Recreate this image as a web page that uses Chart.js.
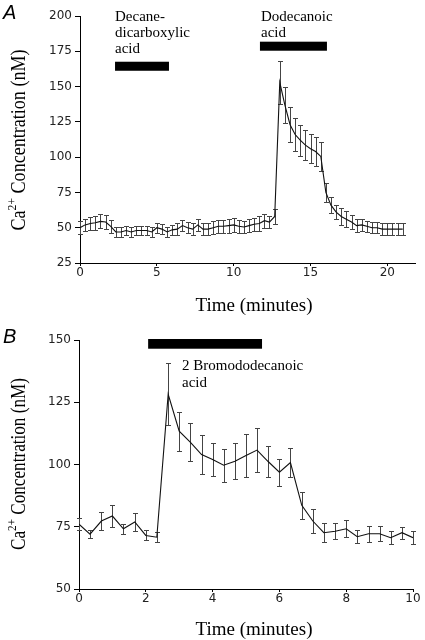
<!DOCTYPE html>
<html><head><meta charset="utf-8">
<script src="https://cdn.jsdelivr.net/npm/chart.js@4.4.1/dist/chart.umd.min.js"></script>
<style>
html,body{margin:0;padding:0;background:#fff;}
canvas{display:block;}
</style></head><body>
<canvas id="cA" width="425" height="320"></canvas>
<canvas id="cB" width="425" height="320"></canvas>
<script>
// ---------- Panel A data ----------
const timeA = [0,0.33,0.67,1,1.33,1.67,2,2.33,2.67,3,3.33,3.67,4,4.33,4.67,5,5.33,5.67,6,6.33,6.67,7,7.33,7.67,8,8.33,8.67,9,9.33,9.67,10,10.33,10.67,11,11.33,11.67,12,12.33,12.67,13,13.33,13.67,14,14.33,14.67,15,15.33,15.67,16,16.33,16.67,17,17.33,17.67,18,18.33,18.67,19,19.33,19.67,20,20.33,20.67,21];
const concA = [50,52,53,53.5,54.5,54,51,47,47,48,47,48,48,48,47,50,49,47,48.5,49,51.5,50,49,52,49,49,50,51,51,51.5,52,51,50.5,51.5,52.5,53,55,54,58,153,137,123,116,112,108.5,106,104,100.5,75,66,61,58,56,54,51.5,52,51,50,50,49,49,49,49,49];
const errA = [4.5,4.5,4.5,5,5,5,4.5,3.5,3.5,3.5,3.5,3.5,3.5,3.5,3.5,3.5,3.5,3.5,3.5,4,4,4,4,4,4.5,4.5,4.5,4.5,4.5,5,5,4.5,4.5,4.5,4.5,5,5,4.5,5.5,15,13,12.5,12,11,10.5,10.5,10.5,10,7,5.5,5,6,5.5,5,4.5,4,4,4,4,4,4,4,4,4];
const xTicksA = [0,5,10,15,20];
const yTicksA = [25,50,75,100,125,150,175,200];
const treatA = [
  {lines:['Decane-','dicarboxylic','acid'], from:2.28, to:5.79, top:167.6, bottom:161.2},
  {lines:['Dodecanoic','acid'], from:11.71, to:16.07, top:181.8, bottom:175.4}
];

// ---------- Panel B data ----------
const timeB = [0,0.33,0.67,1,1.33,1.67,2,2.33,2.67,3,3.33,3.67,4,4.33,4.67,5,5.33,5.67,6,6.33,6.67,7,7.33,7.67,8,8.33,8.67,9,9.33,9.67,10];
const concB = [76,72,77.3,79.3,74.2,76.9,71.5,70.8,128.2,113.4,109,104,102,99.7,101.3,103.6,105.8,101.1,96.9,100.8,83.6,77.3,72.6,73.2,74.2,71,72.2,72.2,70.6,72.6,70.6];
const errB = [2.5,1.7,3.8,4.5,2.1,3.7,2,1.9,12.4,7.8,7.7,8,6.5,6.6,7.3,8.5,8.7,6.2,5.5,6,5.5,4.8,3.9,3.3,3.5,2.6,3.3,3,2.5,2.5,2.5];
const xTicksB = [0,2,4,6,8,10];
const yTicksB = [50,75,100,125,150];
const treatB = [
  {lines:['2 Bromododecanoic','acid'], from:2.07, to:5.48, top:150.4, bottom:146.5}
];

// ---------- plugins ----------
const errorBarPlugin = {
  id:'errbars',
  beforeDatasetsDraw(chart, args, opts){
    const {ctx, scales:{x,y}} = chart;
    const ds = chart.data.datasets[0];
    ctx.save();
    ctx.strokeStyle = '#444';
    ctx.lineWidth = 1;
    ds.data.forEach((p,i)=>{
      const e = opts.errors[i];
      const px = Math.round(x.getPixelForValue(p.x)) + 0.5;
      const yt = Math.round(y.getPixelForValue(p.y + e)) + 0.5;
      const yb = Math.round(y.getPixelForValue(p.y - e)) + 0.5;
      ctx.beginPath();
      ctx.moveTo(px, yt); ctx.lineTo(px, yb);
      ctx.moveTo(px-2.5, yt); ctx.lineTo(px+2.5, yt);
      ctx.moveTo(px-2.5, yb); ctx.lineTo(px+2.5, yb);
      ctx.stroke();
    });
    ctx.restore();
  }
};

const decoPlugin = {
  id:'deco',
  afterDraw(chart, args, o){
    const {ctx, scales:{x,y}} = chart;
    ctx.save();
    ctx.fillStyle = '#000';
    o.treat.forEach((tr,k)=>{
      const x0 = x.getPixelForValue(tr.from), x1 = x.getPixelForValue(tr.to);
      const y0 = y.getPixelForValue(tr.top), y1 = y.getPixelForValue(tr.bottom);
      ctx.fillRect(x0, y0, x1-x0, y1-y0);
      const lab = o.labelPos[k];
      ctx.font = lab.size + 'px "Liberation Serif"';
      ctx.textAlign = 'left'; ctx.textBaseline = 'alphabetic';
      tr.lines.forEach((line,j)=> ctx.fillText(line, lab.x, lab.y + j*lab.dy));
    });
    // panel letter
    ctx.font = 'italic 20px "Liberation Sans"';
    ctx.textAlign = 'left';
    ctx.fillText(o.letter, o.letterX, o.letterY);
    // x title
    ctx.font = '19px "Liberation Serif"';
    ctx.textAlign = 'center';
    ctx.fillText('Time (minutes)', o.xtX, o.xtY);
    // y title (rotated, with superscript)
    const f1 = '20px "Liberation Serif"', f2 = '13px "Liberation Serif"';
    ctx.font = f1; const w1 = ctx.measureText('Ca').width;
    ctx.font = f2; const w2 = ctx.measureText('2+').width;
    ctx.font = f1; const w3 = ctx.measureText(' Concentration (nM)').width;
    const tot = w1 + w2 + w3;
    const s = o.ytLen / tot;
    ctx.translate(o.ytX, o.ytY);
    ctx.rotate(-Math.PI/2);
    ctx.scale(s, 1);
    ctx.textAlign = 'left';
    let cx = -tot/2;
    ctx.font = f1; ctx.fillText('Ca', cx, 0); cx += w1;
    ctx.font = f2; ctx.fillText('2+', cx, -9); cx += w2;
    ctx.font = f1; ctx.fillText(' Concentration (nM)', cx, 0);
    ctx.restore();
  }
};

function makeChart(id, c){
  return new Chart(document.getElementById(id), {
    type:'line',
    data:{datasets:[{
      data: c.t.map((t,i)=>({x:t, y:c.v[i]})),
      borderColor:'#111', borderWidth:1.1, pointRadius:0, tension:0, fill:false
    }]},
    options:{
      responsive:false, animation:false, devicePixelRatio:1,
      layout:{padding:{left:0, right:c.padRight, top:c.padTop, bottom:0}},
      plugins:{
        legend:{display:false}, tooltip:{enabled:false},
        errbars:{errors:c.e},
        deco:c.deco
      },
      scales:{
        x:{
          type:'linear', min:c.xmin, max:c.xmax,
          afterBuildTicks:s=>{ s.ticks = c.xticks.map(v=>({value:v})); },
          afterFit:s=>{ s.height = c.xH; },
          grid:{drawOnChartArea:false, drawTicks:true, tickLength:3, color:'#000'},
          border:{display:true, color:'#000', width:1},
          ticks:{font:{family:'DejaVu Sans', size:12}, color:'#222', padding:0, maxRotation:0, autoSkip:false}
        },
        y:{
          type:'linear', min:c.ymin, max:c.ymax,
          afterBuildTicks:s=>{ s.ticks = c.yticks.map(v=>({value:v})); },
          afterFit:s=>{ s.width = c.yW; },
          grid:{drawOnChartArea:false, drawTicks:true, tickLength:5, color:'#000'},
          border:{display:true, color:'#000', width:1},
          ticks:{font:{family:'DejaVu Sans', size:12}, color:'#222', padding:3, autoSkip:false}
        }
      }
    },
    plugins:[errorBarPlugin, decoPlugin]
  });
}

makeChart('cA', {
  t:timeA, v:concA, e:errA, xticks:xTicksA, yticks:yTicksA,
  xmin:0, xmax:21.8, ymin:25, ymax:200,
  padRight:10, padTop:16, xH:57, yW:80,
  deco:{
    treat:treatA,
    labelPos:[{x:115, y:21, dy:16, size:15},{x:261, y:21, dy:16, size:15}],
    letter:'A', letterX:3, letterY:19,
    xtX:254, xtY:311,
    ytX:25, ytY:140, ytLen:181
  }
});

makeChart('cB', {
  t:timeB, v:concB, e:errB, xticks:xTicksB, yticks:yTicksB,
  xmin:0, xmax:10, ymin:50, ymax:150,
  padRight:12, padTop:20, xH:51, yW:79,
  deco:{
    treat:treatB,
    labelPos:[{x:182, y:50, dy:16.5, size:15}],
    letter:'B', letterX:3, letterY:23,
    xtX:254, xtY:315,
    ytX:25, ytY:144, ytLen:172
  }
});
</script>
</body></html>
